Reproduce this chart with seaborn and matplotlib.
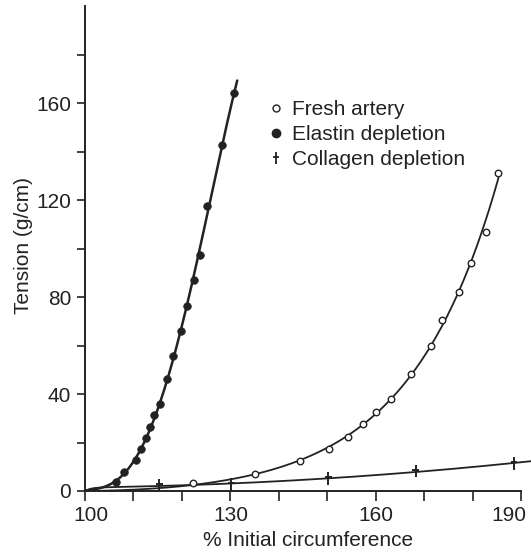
import numpy as np
import pandas as pd
import matplotlib
matplotlib.use("Agg")
import matplotlib.pyplot as plt
from matplotlib.lines import Line2D
from matplotlib.path import Path
from matplotlib.transforms import ScaledTranslation
import seaborn as sns

# Measured tension vs. stretch (% of initial circumference)
fresh_x = [122.2, 135.0, 144.3, 150.3, 154.3, 157.4, 160.1, 163.2, 167.3,
           171.3, 173.6, 177.1, 179.6, 182.7, 185.1]
fresh_y = [3.2, 7.0, 12.4, 17.3, 22.4, 27.5, 32.4, 38.1, 48.2,
           59.8, 70.5, 82.2, 94.1, 106.7, 131.3]

elastin_x = [106.3, 108.0, 110.6, 111.6, 112.5, 113.5, 114.3, 115.5, 117.0,
             118.2, 119.8, 121.0, 122.5, 123.7, 125.1, 128.3, 130.8]
elastin_y = [3.6, 7.7, 12.8, 17.2, 21.7, 26.5, 31.3, 36.0, 46.1,
             55.8, 66.1, 76.3, 87.0, 97.3, 117.5, 142.7, 164.0]

collagen_x = [115.3, 130.2, 150.2, 168.2, 188.5]
collagen_y = [2.3, 2.7, 5.2, 8.2, 11.4]

series_names = ["Fresh artery", "Elastin depletion", "Collagen depletion"]

x_ticks = [100, 130, 160, 190]
y_ticks = [0, 40, 80, 120, 160]

sns.set_theme(style="white")
plt.rcParams["font.family"] = ["Liberation Sans", "DejaVu Sans"]

ink = "#222222"
fig = plt.figure(figsize=(5.31, 5.53), dpi=100)
ax = fig.add_axes([85 / 531, 62 / 553, (531 - 85) / 531, (553 - 62) / 553])

# dagger-like cross used for the collagen series
cross = Path([(0, -1), (0, 1), (-0.55, 0.25), (0.55, 0.25)],
             [Path.MOVETO, Path.LINETO, Path.MOVETO, Path.LINETO])


def fit_exp(t, y):
    """y = a(e^{bt}-1) + c t + d t^2, best b found by a grid search."""
    best = None
    for b in np.linspace(-80, 15, 951):
        if abs(b) < 1e-6:
            continue
        A = np.column_stack([np.expm1(b * t), t, t ** 2])
        coef, *_ = np.linalg.lstsq(A, y, rcond=None)
        err = np.sum((A @ coef - y) ** 2)
        if best is None or err < best[0]:
            best = (err, b, coef)
    _, b, coef = best
    return lambda u: coef[0] * np.expm1(b * u) + coef[1] * u + coef[2] * u ** 2


def fit_poly(t, y):
    """Quartic without constant term."""
    A = np.column_stack([t ** k for k in range(1, 5)])
    coef, *_ = np.linalg.lstsq(A, y, rcond=None)
    return lambda u: sum(c * u ** k for k, c in enumerate(coef, start=1))


def fitted(xs, ys, x_end, model):
    """Fitted curve that passes through zero tension at 100 % circumference."""
    t = (np.asarray(xs) - 100.0) / 100.0
    f = model(t, np.asarray(ys))
    gx = np.linspace(100, x_end, 400)
    return pd.DataFrame({"x": gx, "y": f((gx - 100.0) / 100.0)})


curves = [
    (fresh_x, fresh_y, 185.3, fit_exp, 1.3),
    (elastin_x, elastin_y, 131.4, fit_poly, 1.8),
    (collagen_x, collagen_y, 192.0, fit_exp, 1.3),
]
for xs, ys, xend, model, lw in curves:
    c = fitted(xs, ys, xend, model)
    sns.lineplot(data=c, x="x", y="y", ax=ax, color=ink, lw=lw, sort=False)

sns.scatterplot(x=fresh_x, y=fresh_y, ax=ax, marker="o", s=22,
                facecolor="white", edgecolor=ink, linewidth=1.0, zorder=3)
sns.scatterplot(x=elastin_x, y=elastin_y, ax=ax, marker="o", s=30,
                color=ink, edgecolor=ink, linewidth=0.5, zorder=3)
sns.scatterplot(x=collagen_x, y=collagen_y, ax=ax, marker=cross, s=80,
                facecolor="none", edgecolor=ink, linewidth=1.4, zorder=3)

ax.set_xlim(100, 192)
ax.set_ylim(0, 202.5)
sns.despine(ax=ax)
ax.spines["left"].set_bounds(0, 200)
ax.spines["bottom"].set_bounds(100, 190)
for s in ("left", "bottom"):
    ax.spines[s].set_color(ink)
    ax.spines[s].set_linewidth(1.4)

ax.set_xticks(x_ticks)
ax.set_xticks(np.arange(100, 191, 10), minor=True)
ax.set_yticks(y_ticks)
ax.set_yticks(np.arange(20, 201, 40), minor=True)
ax.tick_params(axis="both", which="both", direction="out", color=ink,
               width=1.2, labelsize=15, labelcolor=ink,
               bottom=True, left=True, top=False, right=False)
ax.tick_params(axis="x", which="both", length=7, pad=4)
ax.tick_params(axis="y", which="both", length=6, pad=4)
ax.grid(False)

# nudge the outermost x tick labels inward
xl = ax.get_xticklabels()
xl[0].set_transform(xl[0].get_transform() + ScaledTranslation(6 / 100, 0, fig.dpi_scale_trans))
xl[-1].set_transform(xl[-1].get_transform() + ScaledTranslation(-12 / 100, 0, fig.dpi_scale_trans))

ax.set_xlabel("% Initial circumference", fontsize=15, color=ink, labelpad=4)
ax.set_ylabel("Tension (g/cm)", fontsize=15, color=ink, labelpad=2)

handles = [
    Line2D([], [], ls="none", marker="o", ms=5, mfc="white", mec=ink, mew=1.0),
    Line2D([], [], ls="none", marker="o", ms=6, mfc=ink, mec=ink),
    Line2D([], [], ls="none", marker=cross, ms=8, mec=ink, mew=1.3),
]
ax.legend(handles, series_names, loc="upper left", frameon=False,
          bbox_to_anchor=(259 / 531, 1 - 90 / 553), bbox_transform=fig.transFigure,
          fontsize=15, handlelength=0.6, handletextpad=0.5, labelspacing=0.28,
          borderpad=0, labelcolor=ink)

fig.savefig("out.png", dpi=100)
